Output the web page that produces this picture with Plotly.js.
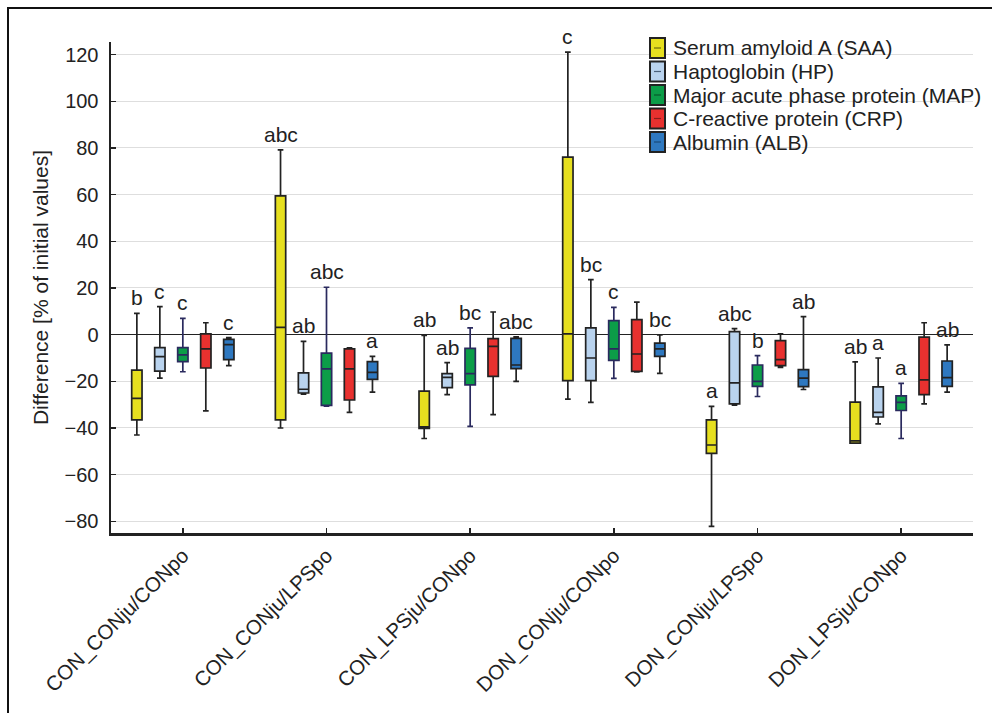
<!DOCTYPE html>
<html>
<head>
<meta charset="utf-8">
<script src="https://cdn.plot.ly/plotly-3.0.1.min.js"></script>
<style>
  html, body { margin: 0; padding: 0; background: #fff; }
  #wrap { position: relative; width: 992px; height: 713px; }
  #chart { width: 992px; height: 713px; }
  #frame { position: absolute; left: 7px; top: 7px; right: 0; bottom: 0;
           border-left: 2px solid #111; border-top: 2px solid #111; pointer-events: none; }
</style>
</head>
<body>
<div id="wrap"><div id="chart"></div><div id="frame"></div></div>
<script>
// Categories (x axis)
const categories = ['CON_CONju/CONpo', 'CON_CONju/LPSpo', 'CON_LPSju/CONpo',
                    'DON_CONju/CONpo', 'DON_CONju/LPSpo', 'DON_LPSju/CONpo'];

// Series names
const seriesNames = ['Serum amyloid A (SAA)', 'Haptoglobin (HP)',
                     'Major acute phase protein (MAP)', 'C-reactive protein (CRP)', 'Albumin (ALB)'];

// SAA
const saaQ3    = [-15.2, 59.5, -24.2, 76.1, -36.5, -28.9];
const saaMed   = [-27.3, 3.1, -39.5, 0.3, -47.3, -45.5];
const saaQ1    = [-36.5, -36.5, -40.2, -19.7, -50.9, -46.5];
const saaUpper = [9.1, 79.2, -0.3, 121.1, -30.7, -11.7];
const saaLower = [-43, -40, -44.5, -27.6, -82.2, -46.5];
const saaLetters = ['b', 'abc', 'ab', 'c', 'a', 'ab'];

// HP
const hpQ3    = [-5.6, -16.4, -16.7, 2.9, 1.3, -22.4];
const hpMed   = [-9.4, -23.4, -18.3, -10, -20.7, -33.3];
const hpQ1    = [-15.6, -25, -22.7, -19.7, -29.7, -35.3];
const hpUpper = [12, -2.9, -12, 23.6, 2.6, -10];
const hpLower = [-18.6, -25.5, -25.7, -29, -30.2, -38.2];
const hpLetters = ['c', 'ab', 'ab', 'bc', 'abc', 'a'];

// MAP
const mapQ3    = [-5.6, -7.9, -5.9, 6, -13, -26.2];
const mapMed   = [-8.7, -14.7, -16.7, -6.1, -20, -29];
const mapQ1    = [-11.6, -30.3, -21.5, -11, -22.2, -32.5];
const mapUpper = [7, 20.3, 2.9, 11.7, -9, -20.9];
const mapLower = [-15.9, -30.6, -39.3, -18.7, -26.5, -44.5];
const mapLetters = ['c', 'abc', 'bc', 'c', 'b', 'a'];

// CRP
const crpQ3    = [0.3, -6.1, -1.7, 6.4, -2.6, -1.1];
const crpMed   = [-6.1, -14.7, -5, -8.3, -10.7, -19.4];
const crpQ1    = [-14.3, -28, -17.9, -15.7, -13.3, -25.7];
const crpUpper = [5.1, -5.7, 9.7, 13.9, 0.3, 5.1];
const crpLower = [-32.7, -33.3, -34.3, -16, -14, -29.7];
const crpLetters = ['', '', '', '', '', ''];

// ALB
const albQ3    = [-2, -11.6, -1.6, -3.6, -15, -11.3];
const albMed   = [-4.3, -16.2, -13, -6.1, -18.6, -18.4];
const albQ1    = [-10.7, -19.2, -14.6, -9.3, -22.3, -22.2];
const albUpper = [-1.3, -9.3, -0.9, -0.1, 7.7, -4.4];
const albLower = [-13.3, -24.6, -20, -16.6, -23.5, -24.6];
const albLetters = ['c', 'a', 'abc', 'bc', 'ab', 'ab'];

const fills = ['#e6df1f', '#b9d3ee', '#0c9d48', '#e8312f', '#2e78c0'];
const lines = ['#222222', '#222222', '#2a2a5e', '#222222', '#222222'];
const medDash = ['#6b6a10', '#4a607a', '#0a5a2a', '#8a1d1b', '#1a4a7a'];

const series = [
  {q3: saaQ3, med: saaMed, q1: saaQ1, up: saaUpper, lo: saaLower, letters: saaLetters},
  {q3: hpQ3,  med: hpMed,  q1: hpQ1,  up: hpUpper,  lo: hpLower,  letters: hpLetters},
  {q3: mapQ3, med: mapMed, q1: mapQ1, up: mapUpper, lo: mapLower, letters: mapLetters},
  {q3: crpQ3, med: crpMed, q1: crpQ1, up: crpUpper, lo: crpLower, letters: crpLetters},
  {q3: albQ3, med: albMed, q1: albQ1, up: albUpper, lo: albLower, letters: albLetters}
];

const FONT = 'Liberation Sans, Arial, Helvetica, sans-serif';
const W = 992, H = 713;
const M = {l: 111, r: 19, t: 42, b: 180};
const PW = W - M.l - M.r, PH = H - M.t - M.b;
const px2x = px => (px - M.l) / PW;
const py2y = py => (H - M.b - py) / PH;

const boxgap = 0.2;
const nSeries = series.length;

const traces = series.map((s, k) => ({
  type: 'box',
  name: seriesNames[k],
  x: categories,
  q1: s.q1, median: s.med, q3: s.q3,
  lowerfence: s.lo, upperfence: s.up,
  fillcolor: fills[k],
  line: {color: lines[k], width: 1.7},
  whiskerwidth: 0.55,
  boxpoints: false,
  hoverinfo: 'skip'
}));

const annotations = [];
series.forEach((s, k) => {
  const offset = (-0.5 + (k + 0.5) / nSeries) * (1 - boxgap);
  s.letters.forEach((t, i) => {
    if (!t) return;
    annotations.push({
      xref: 'x', yref: 'y', x: i + offset, y: s.up[i],
      text: t, showarrow: false, yanchor: 'bottom', xanchor: 'center', yshift: 2,
      font: {family: FONT, size: 21, color: '#222'}
    });
  });
});

// custom legend (decoration)
const shapes = [];
const legLeft = 650, legTop = 48, legStep = 23.5;
seriesNames.forEach((nm, k) => {
  const cy = legTop + k * legStep;
  shapes.push({type: 'rect', xref: 'paper', yref: 'paper',
    x0: px2x(legLeft), x1: px2x(legLeft + 15), y0: py2y(cy + 10), y1: py2y(cy - 10),
    fillcolor: fills[k], line: {color: '#222', width: 2}});
  shapes.push({type: 'line', xref: 'paper', yref: 'paper',
    x0: px2x(legLeft + 4), x1: px2x(legLeft + 11), y0: py2y(cy), y1: py2y(cy),
    line: {color: medDash[k], width: 1.2}});
  annotations.push({xref: 'paper', yref: 'paper', x: px2x(legLeft + 21), y: py2y(cy),
    xanchor: 'left', yanchor: 'middle', showarrow: false, text: nm,
    font: {family: FONT, size: 21, color: '#222'}});
});

const layout = {
  width: W, height: H,
  margin: M,
  paper_bgcolor: '#fff', plot_bgcolor: '#fff',
  boxmode: 'group', boxgap: boxgap, boxgroupgap: 0.55,
  font: {family: FONT, size: 20, color: '#222'},
  showlegend: false,
  xaxis: {
    type: 'category', range: [-0.5, 5.5],
    showline: true, linecolor: '#222', linewidth: 2.5,
    ticks: 'inside', ticklen: 5, tickwidth: 1.5, tickcolor: '#222',
    tickangle: -45, tickfont: {family: FONT, size: 20.5, color: '#222'},
    showgrid: false, zeroline: false, fixedrange: true
  },
  yaxis: {
    range: [-85, 125.4],
    tickvals: [-80, -60, -40, -20, 0, 20, 40, 60, 80, 100, 120],
    showline: true, linecolor: '#222', linewidth: 2.5,
    ticks: 'inside', ticklen: 5, tickwidth: 1.5, tickcolor: '#222',
    tickfont: {family: FONT, size: 20, color: '#222'},
    ticklabelstandoff: 6,
    showgrid: true, gridcolor: '#dedede', gridwidth: 1,
    zeroline: true, zerolinecolor: '#222', zerolinewidth: 1.5,
    title: {text: 'Difference [% of initial values]', font: {family: FONT, size: 21, color: '#222'}, standoff: 10},
    fixedrange: true
  },
  shapes: shapes,
  annotations: annotations
};

Plotly.newPlot('chart', traces, layout, {displayModeBar: false, staticPlot: true});
</script>
</body>
</html>
